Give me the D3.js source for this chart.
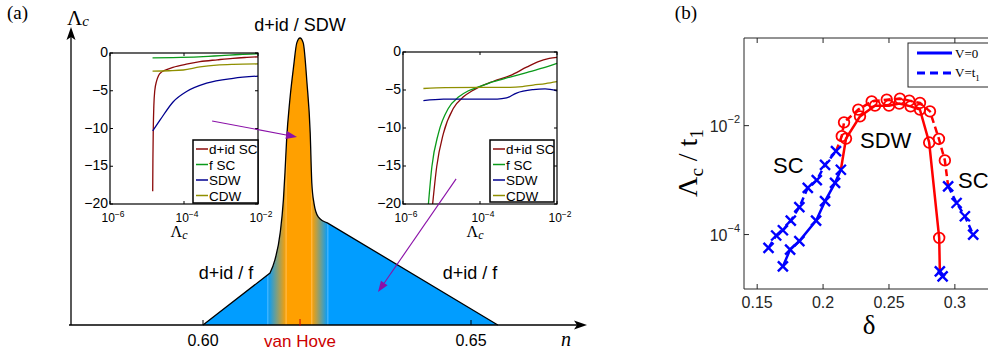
<!DOCTYPE html>
<html><head><meta charset="utf-8">
<script src="https://cdn.jsdelivr.net/npm/d3@7"></script>
<style>
html,body{margin:0;padding:0;background:#fff;}
svg{display:block;}
text{font-family:"Liberation Sans",Arial,sans-serif;}
.serif{font-family:"Liberation Serif","Times New Roman",serif;}
</style></head><body>
<svg id="fig" width="988" height="353"></svg>
<script>
// ===== Panel (a): schematic phase diagram, critical scale vs filling =====
// outline of the unstable region: filling n and critical scale (arb. units)
const phaseN      = [0.6000, 0.6125, 0.6134, 0.6144, 0.6150, 0.6153, 0.6156, 0.6162, 0.6169, 0.6175, 0.6181, 0.6187, 0.6194, 0.6200, 0.6203, 0.6207, 0.6215, 0.6232, 0.6550];
const phaseLambda = [0.000, 0.181, 0.226, 0.321, 0.436, 0.533, 0.645, 0.784, 0.900, 0.983, 1.000, 0.983, 0.843, 0.669, 0.495, 0.425, 0.377, 0.356, 0.000];
const nTicks = [0.60, 0.65];
const nTickLabels = ["0.60", "0.65"];
const vanHoveN = 0.6181;
// edges of the SC -> SDW -> SC colour crossover
const bandEdgesN = [0.6121, 0.6155, 0.6203, 0.6233];
const regionLabels = ["d+id / SDW", "d+id / f", "d+id / f"];

// inset flows: log10(Λc) and vertex eigenvalue per channel
const channels = ["d+id SC", "f SC", "SDW", "CDW"];
const channelColors = ["#8b0a0a", "#0a9a1a", "#00008f", "#8f8f00"];
const insetLogTicks = [-6, -4, -2];
const insetValueTicks = [0, -5, -10, -15, -20];
const leftFlows = [
  [[-4.846,-18.3],[-4.84,-14],[-4.83,-10],[-4.815,-7],[-4.79,-5],[-4.74,-3.7],[-4.69,-3.0],[-4.6,-2.5],[-4.47,-2.2],[-4.3,-1.9],[-3.9,-1.45],[-3.57,-1.15],[-3.1,-0.9],[-2.68,-0.7],[-2.3,-0.58],[-2.0,-0.5]],
  [[-4.85,-0.65],[-4.3,-0.6],[-3.6,-0.5],[-3.0,-0.35],[-2.5,-0.2],[-2.0,-0.1]],
  [[-4.846,-10.3],[-4.65,-8.9],[-4.29,-6.45],[-3.93,-5.1],[-3.39,-4.0],[-2.67,-3.35],[-2.0,-3.05]],
  [[-4.85,-2.4],[-4.4,-2.35],[-4.02,-2.25],[-3.57,-1.85],[-3.12,-1.6],[-2.67,-1.5],[-2.0,-1.45]]
];
const rightFlows = [
  [[-5.23,-20],[-5.125,-15.1],[-4.95,-10.7],[-4.69,-7.4],[-4.43,-5.9],[-4.2,-5.1],[-4.04,-4.65],[-3.65,-3.85],[-3.22,-3.1],[-2.79,-2.0],[-2.5,-1.3],[-2.2,-0.85],[-2.0,-0.7]],
  [[-5.34,-20],[-5.25,-15.1],[-5.08,-10.7],[-4.82,-7.4],[-4.55,-5.9],[-4.3,-5.1],[-4.04,-4.6],[-3.65,-3.9],[-3.22,-3.3],[-2.79,-2.7],[-2.36,-2.1],[-2.0,-1.5]],
  [[-5.47,-6.4],[-4.95,-6.2],[-4.0,-6.2],[-3.55,-6.2],[-3.31,-6.05],[-3.05,-5.4],[-2.62,-4.95],[-2.31,-4.85],[-2.0,-5.1]],
  [[-5.47,-4.8],[-4.9,-4.7],[-4.0,-4.65],[-3.22,-4.65],[-2.9,-4.55],[-2.62,-4.35],[-2.3,-4.15],[-2.0,-3.9]]
];

// ===== Panel (b): critical scale vs doping =====
const deltaTicks = [0.15, 0.2, 0.25, 0.3];
const deltaTickLabels = ["0.15", "0.2", "0.25", "0.3"];
const lambdaTicks = [1e-4, 1e-2];
const lambdaTickExps = ["\u22124", "\u22122"];
// V = 0 (solid)
const scLeftV0  = [[0.1695,2.6e-5],[0.175,5.3e-5],[0.182,7.6e-5],[0.1947,1.8e-4],[0.2015,4.1e-4],[0.2091,8.9e-4],[0.2135,1.55e-3]];
const sdwV0     = [[0.2174,5.8e-3],[0.2280,1.48e-2],[0.2394,2.33e-2],[0.2500,2.33e-2],[0.2578,2.54e-2],[0.2664,2.26e-2],[0.2735,1.97e-2],[0.2805,4.9e-3],[0.2881,8.7e-5]];
const scRightV0 = [[0.2886,2.1e-5],[0.2907,1.7e-5]];
// V = t1 (dashed)
const scLeftV1  = [[0.1586,5.7e-5],[0.1644,9.6e-5],[0.1695,1.2e-4],[0.1755,1.8e-4],[0.182,3.2e-4],[0.1884,7.2e-4],[0.1952,1.0e-3],[0.2015,1.9e-3],[0.2098,3.4e-3]];
const sdwV1     = [[0.2142,6.4e-3],[0.2159,1.15e-2],[0.2267,1.97e-2],[0.2369,2.79e-2],[0.2483,3.0e-2],[0.2583,3.13e-2],[0.2654,2.88e-2],[0.2735,2.61e-2],[0.2811,1.83e-2],[0.2879,5.7e-3],[0.2924,2.3e-3]];
const scRightV1 = [[0.2949,7.7e-4],[0.3013,3.8e-4],[0.3076,2.17e-4],[0.3139,1.0e-4]];
const phaseTextB = ["SC", "SDW", "SC"];
const legendB = ["V=0", "V=t"];

const svg = d3.select("#fig");
const defs = svg.append("defs");
const BLUE_A = "#019dff", ORANGE_A = "#ffa000";

// ---------------- (a) ----------------
const xA = d3.scaleLinear().domain([0.60, 0.65]).range([203, 471]);
const yA = d3.scaleLinear().domain([0, 1]).range([325, 38]);

const grad = defs.append("linearGradient").attr("id", "band")
  .attr("gradientUnits", "userSpaceOnUse")
  .attr("x1", xA(bandEdgesN[0])).attr("x2", xA(bandEdgesN[3])).attr("y1", 0).attr("y2", 0);
const span = bandEdgesN[3] - bandEdgesN[0];
[[0, BLUE_A], [(bandEdgesN[1]-bandEdgesN[0])/span, ORANGE_A], [(bandEdgesN[2]-bandEdgesN[0])/span, ORANGE_A], [1, BLUE_A]]
  .forEach(([o, c]) => grad.append("stop").attr("offset", o).attr("stop-color", c));

const pts = phaseN.map((n, i) => [xA(n), yA(phaseLambda[i])]);
const mid = d3.line().curve(d3.curveMonotoneX)(pts.slice(1, -1));
const first = pts[0], last = pts[pts.length - 1];
const outline = `M${first[0]},${first[1]}L` + mid.slice(1) + `L${last[0]},${last[1]}`;

defs.append("clipPath").attr("id", "regionClip").append("path").attr("d", outline + "Z");
svg.append("path").attr("d", outline + "Z").attr("fill", "url(#band)");
// faint seams at the crossover edges
svg.append("g").attr("clip-path", "url(#regionClip)").selectAll("line").data(bandEdgesN).join("line")
  .attr("x1", d => xA(d)).attr("x2", d => xA(d)).attr("y1", yA(0)).attr("y2", yA(1))
  .attr("stroke", "#ffffff").attr("stroke-opacity", 0.35).attr("stroke-width", 1);
svg.append("path").attr("d", outline).attr("fill", "none").attr("stroke", "#000").attr("stroke-width", 1.3);

// axes with arrows
const axA = svg.append("g");
axA.append("line").attr("x1", 71).attr("x2", 71).attr("y1", yA(0)).attr("y2", 36).attr("stroke", "#000").attr("stroke-width", 1.3);
axA.append("path").attr("d", "M71,27L66.5,40L71,37L75.5,40Z").attr("fill", "#000");
axA.append("line").attr("x1", 69).attr("x2", 578).attr("y1", yA(0)).attr("y2", yA(0)).attr("stroke", "#000").attr("stroke-width", 1.3);
axA.append("path").attr("d", `M587,${yA(0)}L574,${yA(0)-4.5}L577,${yA(0)}L574,${yA(0)+4.5}Z`).attr("fill", "#000");
nTicks.forEach((t, i) => {
  axA.append("line").attr("x1", xA(t)).attr("x2", xA(t)).attr("y1", yA(0)).attr("y2", yA(0) - 5).attr("stroke", "#000");
  axA.append("text").attr("x", xA(t)).attr("y", 346).attr("text-anchor", "middle").attr("font-size", 16).text(nTickLabels[i]);
});
axA.append("line").attr("x1", xA(vanHoveN)).attr("x2", xA(vanHoveN)).attr("y1", yA(0) + 1).attr("y2", yA(0) - 6).attr("stroke", "#cc0000");
axA.append("text").attr("x", xA(vanHoveN)).attr("y", 347).attr("text-anchor", "middle").attr("font-size", 17).attr("fill", "#cc0000").text("van Hove");
axA.append("text").attr("class", "serif").attr("x", 566).attr("y", 346).attr("font-size", 20).attr("font-style", "italic").attr("text-anchor", "middle").text("n");
const lamA = axA.append("text").attr("class", "serif").attr("x", 67).attr("y", 25).attr("font-size", 21);
lamA.append("tspan").text("\u039b");
lamA.append("tspan").attr("font-size", 15).attr("font-style", "italic").attr("dy", 1).text("c");
svg.append("text").attr("class", "serif").attr("x", 7).attr("y", 19).attr("font-size", 19).text("(a)");

svg.append("text").attr("x", xA(vanHoveN)).attr("y", 31).attr("text-anchor", "middle").attr("font-size", 18).text(regionLabels[0]);
svg.append("text").attr("x", 226).attr("y", 279).attr("text-anchor", "middle").attr("font-size", 18).text(regionLabels[1]);
svg.append("text").attr("x", 470).attr("y", 279).attr("text-anchor", "middle").attr("font-size", 18).text(regionLabels[2]);

// inset RG-flow plots
function drawInset(box, flows, legendBox) {
  const g = svg.append("g");
  const x = d3.scaleLinear().domain([-6, -2]).range([box.x0, box.x1]);
  const y = d3.scaleLinear().domain([-20, 0]).range([box.y1, box.y0]);
  g.append("rect").attr("x", box.x0).attr("y", box.y0).attr("width", box.x1 - box.x0).attr("height", box.y1 - box.y0)
    .attr("fill", "#fff");
  const line = d3.line().x(d => x(d[0])).y(d => y(d[1])).curve(d3.curveMonotoneX);
  flows.forEach((f, i) => g.append("path").attr("d", line(f)).attr("fill", "none")
    .attr("stroke", channelColors[i]).attr("stroke-width", 1.3));
  g.append("rect").attr("x", box.x0).attr("y", box.y0).attr("width", box.x1 - box.x0).attr("height", box.y1 - box.y0)
    .attr("fill", "none").attr("stroke", "#000").attr("stroke-width", 1.2);
  insetValueTicks.forEach(v => {
    g.append("line").attr("x1", box.x0).attr("x2", box.x0 + 3).attr("y1", y(v)).attr("y2", y(v)).attr("stroke", "#000");
    g.append("line").attr("x1", box.x1).attr("x2", box.x1 - 3).attr("y1", y(v)).attr("y2", y(v)).attr("stroke", "#000");
    g.append("text").attr("x", box.x0 - 2).attr("y", y(v) + 4).attr("text-anchor", "end").attr("font-size", 14)
      .text(v === 0 ? "0" : "\u2212" + Math.abs(v));
  });
  insetLogTicks.forEach(t => {
    g.append("line").attr("x1", x(t)).attr("x2", x(t)).attr("y1", box.y1).attr("y2", box.y1 - 3).attr("stroke", "#000");
    g.append("line").attr("x1", x(t)).attr("x2", x(t)).attr("y1", box.y0).attr("y2", box.y0 + 3).attr("stroke", "#000");
    const tx = g.append("text").attr("x", x(t) + 3).attr("y", box.y1 + 18).attr("text-anchor", "middle").attr("font-size", 12);
    tx.append("tspan").text("10");
    tx.append("tspan").attr("font-size", 8.5).attr("dy", -5).text("\u2212" + Math.abs(t));
  });
  const lab = g.append("text").attr("class", "serif").attr("x", (box.x0 + box.x1) / 2 - 5).attr("y", box.y1 + 33).attr("font-size", 16).attr("text-anchor", "middle");
  lab.append("tspan").text("\u039b");
  lab.append("tspan").attr("font-size", 12).attr("font-style", "italic").attr("dy", 2).text("c");
  // legend
  const lg = g.append("g");
  lg.append("rect").attr("x", legendBox.x).attr("y", legendBox.y).attr("width", legendBox.w).attr("height", legendBox.h)
    .attr("fill", "#fff").attr("stroke", "#000").attr("stroke-width", 1.5);
  channels.forEach((c, i) => {
    const yy = legendBox.y + 9 + i * 15.5;
    lg.append("line").attr("x1", legendBox.x + 3).attr("x2", legendBox.x + 15).attr("y1", yy).attr("y2", yy)
      .attr("stroke", channelColors[i]).attr("stroke-width", 1.5);
    lg.append("text").attr("x", legendBox.x + 16).attr("y", yy + 5).attr("font-size", 13.5).text(c);
  });
  return { x, y };
}
const inL = drawInset({ x0: 110, x1: 258, y0: 53, y1: 204 }, leftFlows, { x: 193, y: 140, w: 65, h: 63 });
const inR = drawInset({ x0: 403, x1: 557, y0: 52, y1: 204 }, rightFlows, { x: 490, y: 140, w: 64, h: 62 });

// arrows from the insets to the corresponding fillings
function arrow(x1, y1, x2, y2) {
  const col = "#8a10a8";
  const a = Math.atan2(y2 - y1, x2 - x1), L = 11, W = 4;
  const bx = x2 - L * Math.cos(a), by = y2 - L * Math.sin(a);
  svg.append("line").attr("x1", x1).attr("y1", y1).attr("x2", bx).attr("y2", by).attr("stroke", col).attr("stroke-width", 1.1);
  svg.append("path").attr("d", `M${x2},${y2}L${bx + W * Math.sin(a)},${by - W * Math.cos(a)}L${bx - W * Math.sin(a)},${by + W * Math.cos(a)}Z`).attr("fill", col);
}
arrow(inL.x(-3.24), inL.y(-9.0), xA(0.61754), yA(0.655));
arrow(inR.x(-4.62), inR.y(-16.7), xA(0.63265), yA(0.115));

// ---------------- (b) ----------------
const xB = d3.scaleLinear().domain([0.14, 0.335]).range([744, 1001]);
const yB = d3.scaleLog().domain([1e-5, 0.407]).range([289, 38]);
const gB = svg.append("g");
gB.append("path").attr("d", `M1002,${yB.range()[1]}H${xB.range()[0]}V${yB.range()[0]}H1002`).attr("fill", "none").attr("stroke", "#262626").attr("stroke-width", 1);
deltaTicks.forEach((t, i) => {
  gB.append("line").attr("x1", xB(t)).attr("x2", xB(t)).attr("y1", 289).attr("y2", 284).attr("stroke", "#262626");
  gB.append("line").attr("x1", xB(t)).attr("x2", xB(t)).attr("y1", 38).attr("y2", 43).attr("stroke", "#262626");
  gB.append("text").attr("x", xB(t)).attr("y", 308).attr("text-anchor", "middle").attr("font-size", 16).attr("fill", "#262626").text(deltaTickLabels[i]);
});
lambdaTicks.forEach((t, i) => {
  gB.append("line").attr("x1", 744).attr("x2", 749).attr("y1", yB(t)).attr("y2", yB(t)).attr("stroke", "#262626");
  const tx = gB.append("text").attr("x", 740).attr("y", yB(t) + 6).attr("text-anchor", "end").attr("font-size", 16).attr("fill", "#262626");
  tx.append("tspan").text("10");
  tx.append("tspan").attr("font-size", 11).attr("dy", -9).text(lambdaTickExps[i]);
});
gB.append("text").attr("class", "serif").attr("x", 869).attr("y", 334).attr("text-anchor", "middle").attr("font-size", 27).text("\u03b4");
const yl = gB.append("text").attr("class", "serif").attr("transform", "translate(697,163) rotate(-90)").attr("text-anchor", "middle").attr("font-size", 28);
yl.append("tspan").text("\u039b");
yl.append("tspan").attr("font-size", 19).attr("dy", 6).text("c");
yl.append("tspan").attr("dy", -6).text(" / t");
yl.append("tspan").attr("font-size", 19).attr("dy", 6).text("1");
svg.append("text").attr("class", "serif").attr("x", 697).attr("y", 19).attr("text-anchor", "end").attr("font-size", 19).text("(b)");

const lineB = d3.line().x(d => xB(d[0])).y(d => yB(d[1]));
const series = [
  { sc: [scLeftV0, scRightV0], sdw: sdwV0, dash: null },
  { sc: [scLeftV1, scRightV1], sdw: sdwV1, dash: "7,4" }
];
series.forEach(s => {
  const sdwPath = [s.sc[0][s.sc[0].length - 1], ...s.sdw, s.sc[1][0]];
  gB.append("path").attr("d", lineB(sdwPath)).attr("fill", "none").attr("stroke", "#ff0000").attr("stroke-width", 2.5).attr("stroke-dasharray", s.dash);
  s.sc.forEach(arr => gB.append("path").attr("d", lineB(arr)).attr("fill", "none").attr("stroke", "#0000ff").attr("stroke-width", 2.5).attr("stroke-dasharray", s.dash));
});
series.forEach(s => {
  gB.selectAll(null).data(s.sdw).join("circle").attr("cx", d => xB(d[0])).attr("cy", d => yB(d[1])).attr("r", 5.3)
    .attr("fill", "none").attr("stroke", "#ff0000").attr("stroke-width", 1.8);
  gB.selectAll(null).data([...s.sc[0], ...s.sc[1]]).join("path")
    .attr("transform", d => `translate(${xB(d[0])},${yB(d[1])})`).attr("d", "M-5,-5L5,5M-5,5L5,-5")
    .attr("stroke", "#0000ff").attr("stroke-width", 2.4).attr("fill", "none");
});
gB.append("text").attr("x", 773).attr("y", 173).attr("font-size", 22).text(phaseTextB[0]);
gB.append("text").attr("x", 860).attr("y", 148).attr("font-size", 22).text(phaseTextB[1]);
gB.append("text").attr("x", 958).attr("y", 188).attr("font-size", 22).text(phaseTextB[2]);

// legend
const lgB = gB.append("g");
lgB.append("rect").attr("x", 908).attr("y", 43).attr("width", 90).attr("height", 44).attr("fill", "#fff").attr("stroke", "#262626");
lgB.append("line").attr("x1", 917).attr("x2", 952).attr("y1", 53).attr("y2", 53).attr("stroke", "#0000ff").attr("stroke-width", 3);
lgB.append("line").attr("x1", 917).attr("x2", 952).attr("y1", 73).attr("y2", 73).attr("stroke", "#0000ff").attr("stroke-width", 3).attr("stroke-dasharray", "8,5");
lgB.append("text").attr("class", "serif").attr("x", 955).attr("y", 58).attr("font-size", 13).text(legendB[0]);
const l2 = lgB.append("text").attr("class", "serif").attr("x", 955).attr("y", 77).attr("font-size", 13);
l2.append("tspan").text(legendB[1]);
l2.append("tspan").attr("font-size", 9).attr("dy", 4).text("1");
</script>
</body></html>
